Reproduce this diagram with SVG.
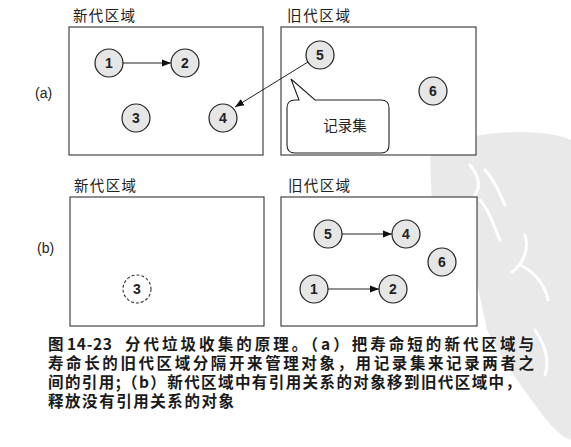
<svg xmlns="http://www.w3.org/2000/svg" width="571" height="447" viewBox="0 0 571 447">
<style>
.panel{fill:#fff;stroke:#333;stroke-width:1.1}
.node{fill:#e6e6e6;stroke:#222;stroke-width:1.2}
.dash{fill:#fff;stroke:#333;stroke-width:1.1;stroke-dasharray:3 2}
.num{font-family:"Liberation Sans",Arial,sans-serif;font-size:14px;font-weight:bold;fill:#222;text-anchor:middle}
.title{font-family:"Noto Sans CJK SC",sans-serif;font-size:14.5px;fill:#222}
.lbl{font-family:"Liberation Sans",Arial,sans-serif;font-size:14px;fill:#222}
.cap{font-family:"Noto Sans CJK SC",sans-serif;font-size:15.5px;font-weight:bold;fill:#1a1a1a}
.edge{stroke:#222;stroke-width:1;fill:none;marker-end:url(#ah)}
</style>
<defs>
<marker id="ah" viewBox="0 0 10 10" refX="10" refY="5" markerWidth="9" markerHeight="9" markerUnits="userSpaceOnUse" orient="auto">
<path d="M0,1 L10,5 L0,9 Z" fill="#111"/>
</marker>
</defs>
<rect width="571" height="447" fill="#fff"/>
<g id="watermark">
<path d="M430,157 C445,140 480,132 520,132 C545,132 563,136 571,140 L571,440 C560,437 548,423 533,402 C515,378 500,355 487,330 L470,250 L432,205 Z" fill="#e9e9e9"/>
<g fill="none" stroke="#fff" stroke-width="3" stroke-linecap="round">
<path d="M470,165 C478,175 482,185 475,195"/>
<path d="M485,170 C495,180 500,195 505,205"/>
<path d="M480,200 C490,210 495,230 500,240"/>
<path d="M525,235 C530,250 522,265 512,272"/>
<path d="M520,265 C535,272 545,285 548,300"/>
<path d="M535,330 C545,345 550,360 545,375"/>
</g>
</g>
<g id="labels">
<text class="lbl" x="35" y="98">(a)</text>
<text class="lbl" x="37" y="253">(b)</text>
</g>
<g id="panel-a-new">
<rect class="panel" x="69" y="27" width="194" height="128"/>
<text class="title" x="73" y="21" textLength="62">新代区域</text>
</g>
<g id="panel-a-old">
<rect class="panel" x="281" y="27" width="195" height="128"/>
<text class="title" x="287" y="21" textLength="63">旧代区域</text>
</g>
<g id="panel-b-new">
<rect class="panel" x="70" y="197" width="194" height="129"/>
<text class="title" x="74" y="191" textLength="62">新代区域</text>
</g>
<g id="panel-b-old">
<rect class="panel" x="281" y="197" width="196" height="129"/>
<text class="title" x="288" y="191" textLength="62">旧代区域</text>
</g>
<g id="connectors">
<line class="edge" x1="123" y1="63" x2="171" y2="63"/>
<line class="edge" x1="308" y1="62" x2="235" y2="107"/>
<line class="edge" x1="342" y1="234" x2="392" y2="234"/>
<line class="edge" x1="328" y1="289" x2="379" y2="289"/>
</g>
<g id="a-n1"><circle class="node" cx="109" cy="63" r="14"/><text class="num" x="109" y="68">1</text></g>
<g id="a-n2"><circle class="node" cx="185" cy="63" r="14"/><text class="num" x="185" y="68">2</text></g>
<g id="a-n3"><circle class="node" cx="136" cy="118" r="14"/><text class="num" x="136" y="123">3</text></g>
<g id="a-n4"><circle class="node" cx="223" cy="118" r="14"/><text class="num" x="223" y="123">4</text></g>
<g id="a-n5"><circle class="node" cx="320" cy="55" r="14"/><text class="num" x="320" y="60">5</text></g>
<g id="a-n6"><circle class="node" cx="433" cy="91" r="14"/><text class="num" x="433" y="96">6</text></g>
<g id="callout">
<path d="M299,100 L291,79 L315,100 L381,100 Q389,100 389,108 L389,145 Q389,153 381,153 L295,153 Q287,153 287,145 L287,108 Q287,100 295,100 Z" fill="#fff" stroke="#222" stroke-width="1.1"/>
<text class="title" x="345" y="131" font-size="15.5" text-anchor="middle">记录集</text>
</g>
<g id="b-n3"><circle class="dash" cx="137" cy="289" r="14"/><text class="num" x="137" y="294">3</text></g>
<g id="b-n5"><circle class="node" cx="328" cy="234" r="14"/><text class="num" x="328" y="239">5</text></g>
<g id="b-n4"><circle class="node" cx="406" cy="234" r="14"/><text class="num" x="406" y="239">4</text></g>
<g id="b-n6"><circle class="node" cx="442" cy="262" r="14"/><text class="num" x="442" y="267">6</text></g>
<g id="b-n1"><circle class="node" cx="314" cy="289" r="14"/><text class="num" x="314" y="294">1</text></g>
<g id="b-n2"><circle class="node" cx="393" cy="289" r="14"/><text class="num" x="393" y="294">2</text></g>
<g id="caption">
<text class="cap"><tspan x="48" y="350">图</tspan><tspan x="67" y="350" textLength="45">14-23</tspan><tspan x="125" y="350" textLength="409" lengthAdjust="spacing">分代垃圾收集的原理。（a）把寿命短的新代区域与</tspan><tspan x="48" y="369" textLength="486" lengthAdjust="spacing">寿命长的旧代区域分隔开来管理对象，用记录集来记录两者之</tspan><tspan x="48" y="388" textLength="473" lengthAdjust="spacing">间的引用;（b）新代区域中有引用关系的对象移到旧代区域中，</tspan><tspan x="48" y="407" textLength="186" lengthAdjust="spacing">释放没有引用关系的对象</tspan></text>
</g>
</svg>
